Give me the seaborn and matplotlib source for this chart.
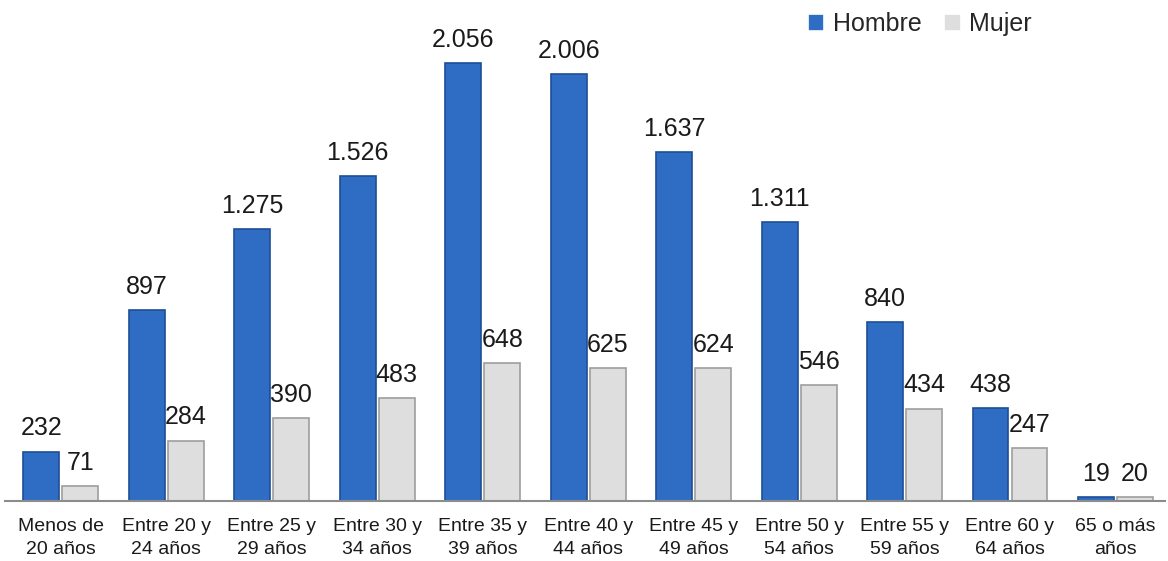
import matplotlib.pyplot as plt
import pandas as pd
import seaborn as sns

categorias = ["Menos de\n20 años", "Entre 20 y\n24 años", "Entre 25 y\n29 años",
              "Entre 30 y\n34 años", "Entre 35 y\n39 años", "Entre 40 y\n44 años",
              "Entre 45 y\n49 años", "Entre 50 y\n54 años", "Entre 55 y\n59 años",
              "Entre 60 y\n64 años", "65 o más\naños"]
hombre = [232, 897, 1275, 1526, 2056, 2006, 1637, 1311, 840, 438, 19]
mujer = [71, 284, 390, 483, 648, 625, 624, 546, 434, 247, 20]

df = pd.DataFrame({
    "edad": categorias * 2,
    "valor": hombre + mujer,
    "sexo": ["Hombre"] * len(hombre) + ["Mujer"] * len(mujer),
})

sns.set_style("white")
plt.rcParams["font.family"] = ["Liberation Sans", "DejaVu Sans"]

fig = plt.figure(figsize=(11.68, 5.61), dpi=100)
ax = fig.add_axes([5 / 1168, 60 / 561, 1160 / 1168, 491 / 561])

sns.barplot(data=df, x="edad", y="valor", hue="sexo", ax=ax,
            palette={"Hombre": "#2F6DC4", "Mujer": "#DEDEDE"},
            width=0.74, gap=0.08, saturation=1, linewidth=1.2)

edges = {"Hombre": "#1E4E96", "Mujer": "#9E9E9E"}
for cont, name in zip(ax.containers, ["Hombre", "Mujer"]):
    for bar in cont:
        bar.set_edgecolor(edges[name])
    ax.bar_label(cont, labels=[f"{int(v):,}".replace(",", ".") for v in cont.datavalues],
                 padding=8, fontsize=18, color="#1a1a1a")

ax.set_ylim(0, 2305)
ax.set_xlim(-0.53, 10.47)
ax.set_xlabel("")
ax.set_ylabel("")
ax.set_yticks([])
ax.tick_params(axis="x", labelsize=14, length=0, pad=12, labelcolor="#1a1a1a")
for lbl in ax.get_xticklabels():
    lbl.set_linespacing(1.45)
for s in ["top", "right", "left"]:
    ax.spines[s].set_visible(False)
ax.spines["bottom"].set_color("#8c8c8c")
ax.spines["bottom"].set_linewidth(1.5)

leg = ax.legend(loc="upper right", bbox_to_anchor=(1042 / 1168, 1 - 2 / 561),
                bbox_transform=fig.transFigure, ncol=2, frameon=False,
                fontsize=18, handlelength=0.65, handleheight=0.7, handletextpad=0.35,
                columnspacing=0.9, borderaxespad=0)

plt.savefig("out.png", dpi=100)
